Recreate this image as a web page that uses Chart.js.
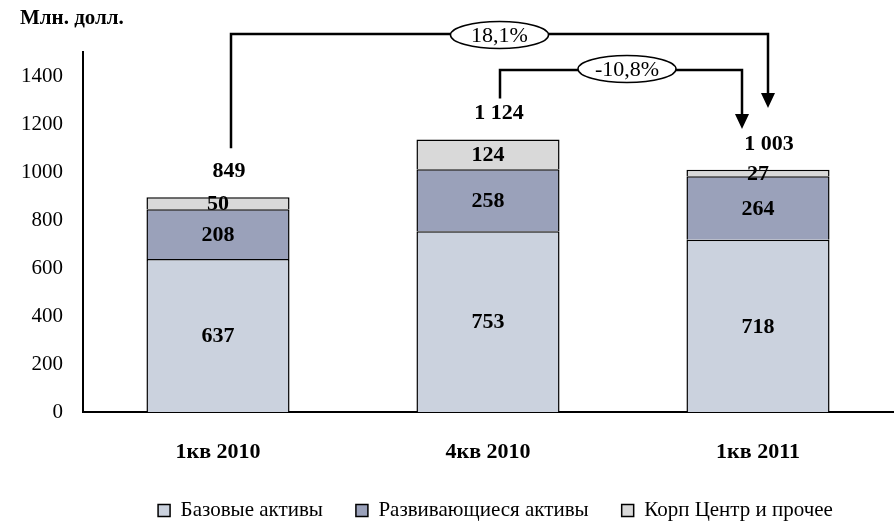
<!DOCTYPE html>
<html>
<head>
<meta charset="utf-8">
<script src="https://cdn.jsdelivr.net/npm/chart.js@4"></script>
<style>
  html,body{margin:0;padding:0;background:#fff;}
  #wrap{position:relative;width:894px;height:522px;}
  #unit{position:absolute;left:20px;top:5px;font:bold 21px "Liberation Serif",serif;color:#000;}
</style>
</head>
<body>
<div id="wrap">
  <div id="unit">Млн. долл.</div>
  <canvas id="chart" width="894" height="522"></canvas>
</div>
<script>
const categories = ['1кв 2010', '4кв 2010', '1кв 2011'];
const baseAssets = [637, 753, 718];
const devAssets = [208, 258, 264];
const corpOther = [50, 124, 27];
const totalLabels = ['849', '1 124', '1 003'];
const changeLabels = ['18,1%', '-10,8%'];

const serif = '"Liberation Serif", "Times New Roman", serif';

// value labels inside segments + totals above the stack
const labelsPlugin = {
  id: 'labels',
  afterDatasetsDraw(chart){
    const ctx = chart.ctx;
    ctx.save();
    ctx.fillStyle = '#000';
    ctx.textAlign = 'center';
    ctx.textBaseline = 'middle';
    ctx.font = 'bold 22px ' + serif;
    chart.data.datasets.forEach((ds, i)=>{
      const meta = chart.getDatasetMeta(i);
      meta.data.forEach((bar, j)=>{
        ctx.fillText(String(ds.data[j]), bar.x, (bar.y + bar.base)/2 + 1);
      });
    });
    const top = chart.getDatasetMeta(chart.data.datasets.length-1);
    top.data.forEach((bar, j)=>{
      ctx.fillText(totalLabels[j], bar.x + 11, bar.y - 26);
    });
    ctx.restore();
  }
};

function arrowHead(ctx, x, y){
  ctx.beginPath();
  ctx.moveTo(x - 7, y - 15);
  ctx.lineTo(x + 7, y - 15);
  ctx.lineTo(x, y);
  ctx.closePath();
  ctx.fill();
}

function bubble(ctx, cx, cy, text){
  ctx.beginPath();
  ctx.ellipse(cx, cy, 49, 13.5, 0, 0, Math.PI*2);
  ctx.fillStyle = '#fff';
  ctx.fill();
  ctx.lineWidth = 1.5;
  ctx.stroke();
  ctx.fillStyle = '#000';
  ctx.font = '22px ' + serif;
  ctx.textAlign = 'center';
  ctx.textBaseline = 'middle';
  ctx.fillText(text, cx, cy + 1);
}

// growth brackets between the bars
const bracketPlugin = {
  id: 'brackets',
  afterDraw(chart){
    const ctx = chart.ctx;
    const top = chart.chartArea.top;
    const meta = chart.getDatasetMeta(2);
    const b1 = meta.data[0], b2 = meta.data[1], b3 = meta.data[2];
    ctx.save();
    ctx.strokeStyle = '#000';
    ctx.fillStyle = '#000';
    ctx.lineWidth = 2.5;
    ctx.lineJoin = 'miter';

    // 1кв 2010 -> 1кв 2011
    const x1 = b1.x + 13, x3a = b3.x + 10, y1 = top - 18;
    ctx.beginPath();
    ctx.moveTo(x1, b1.y - 49);
    ctx.lineTo(x1, y1);
    ctx.lineTo(x3a, y1);
    ctx.lineTo(x3a, top + 42);
    ctx.stroke();
    arrowHead(ctx, x3a, top + 56);

    // 4кв 2010 -> 1кв 2011
    const x2 = b2.x + 12, x3b = b3.x - 16, y2 = top + 18;
    ctx.beginPath();
    ctx.moveTo(x2, b2.y - 41);
    ctx.lineTo(x2, y2);
    ctx.lineTo(x3b, y2);
    ctx.lineTo(x3b, top + 63);
    ctx.stroke();
    arrowHead(ctx, x3b, top + 77);

    bubble(ctx, (x1 + x3a)/2, y1 + 1, changeLabels[0]);
    bubble(ctx, (x2 + x3b)/2 + 6, y2 - 1, changeLabels[1]);
    ctx.restore();
  }
};

// nudge the legend to where the original had it
const legendShift = {
  id: 'legendShift',
  afterLayout(chart){
    const lg = chart.legend;
    if(!lg) return;
    lg.left += 49; lg.right += 49;
    lg.top += 9; lg.bottom += 9;
  }
};

new Chart(document.getElementById('chart'), {
  type: 'bar',
  data: {
    labels: categories,
    datasets: [
      { label: 'Базовые активы', data: baseAssets, backgroundColor: '#cbd2de', borderColor: '#000', borderWidth: 1.5 },
      { label: 'Развивающиеся активы', data: devAssets, backgroundColor: '#9aa1ba', borderColor: '#000', borderWidth: 1.5 },
      { label: 'Корп Центр и прочее', data: corpOther, backgroundColor: '#d9d9d9', borderColor: '#000', borderWidth: 1.5 }
    ]
  },
  options: {
    responsive: false,
    animation: false,
    layout: { padding: { top: 52, right: 1, left: 0, bottom: 0 } },
    datasets: { bar: { categoryPercentage: 1, barPercentage: 0.53 } },
    plugins: {
      tooltip: { enabled: false },
      legend: {
        position: 'bottom',
        labels: {
          font: { family: serif, size: 21 },
          color: '#000',
          boxWidth: 12,
          boxHeight: 12,
          padding: 33,
          generateLabels(chart){
            return chart.data.datasets.map((ds, i)=>({
              text: ds.label, fillStyle: ds.backgroundColor, strokeStyle: '#000',
              lineWidth: 1.5, datasetIndex: i, hidden: false
            }));
          }
        }
      }
    },
    scales: {
      x: {
        stacked: true,
        grid: { display: false, drawTicks: false },
        border: { color: '#000', width: 2 },
        ticks: { color: '#000', font: { family: serif, size: 22, weight: 'bold' }, padding: 27 },
        afterFit(scale){ scale.height = 46; }
      },
      y: {
        stacked: true,
        min: 0, max: 1500,
        grid: { display: false, drawTicks: false },
        border: { color: '#000', width: 2 },
        ticks: { stepSize: 200, autoSkip: false, color: '#000', font: { family: serif, size: 21 }, padding: 20, callback: v => String(v) },
        afterBuildTicks(scale){ scale.ticks = scale.ticks.filter(t => t.value % 200 === 0); },
        afterFit(scale){ scale.width = 83; }
      }
    }
  },
  plugins: [labelsPlugin, bracketPlugin, legendShift]
});
</script>
</body>
</html>
